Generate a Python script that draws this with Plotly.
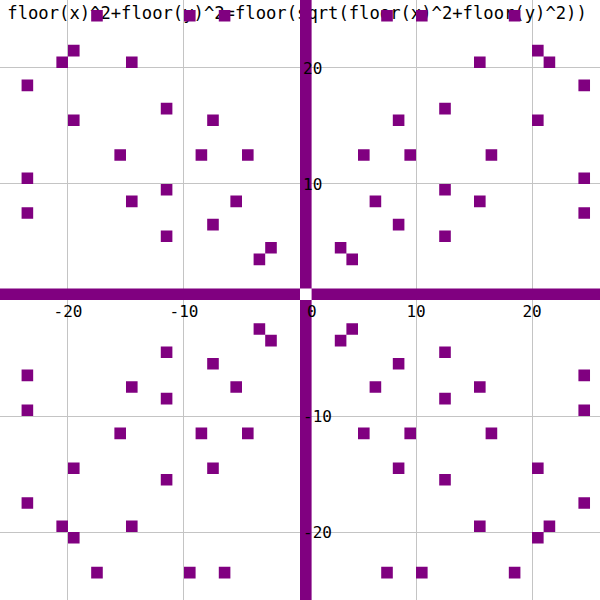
import plotly.graph_objects as go

# Integer cells (floor(x), floor(y)) in the first quadrant where x^2+y^2 is a perfect square
cell_a = [3, 4, 6, 8, 5, 12, 9, 12, 8, 15, 12, 16, 7, 24, 15, 20, 10, 24, 20, 21, 18, 24]
cell_b = [4, 3, 8, 6, 12, 5, 12, 9, 15, 8, 16, 12, 24, 7, 20, 15, 24, 10, 21, 20, 24, 18]
quadrant_signs = [(1, 1), (-1, 1), (-1, -1), (1, -1)]
axis_extent = 27  # the floor(x)=0 / floor(y)=0 strips run off the plot
tick_values = [-20, -10, 10, 20]
tick_labels = ["-20", "-10", "10", "20"]
title_text = "floor(x)^2+floor(y)^2=floor(sqrt(floor(x)^2+floor(y)^2))"

PURPLE = "#800080"
FONT = "DejaVu Sans Mono"

xs, ys = [], []


def add_rect(x0, x1, y0, y1):
    xs.extend([x0, x1, x1, x0, x0, None])
    ys.extend([y0, y0, y1, y1, y0, None])


for sx, sy in quadrant_signs:
    for a, b in zip(cell_a, cell_b):
        fx, fy = sx * a, sy * b
        add_rect(fx, fx + 1, fy, fy + 1)

# strips where floor(x)=0 or floor(y)=0 (origin cell left blank as in the reference)
add_rect(-axis_extent, 0, 0, 1)
add_rect(1, axis_extent, 0, 1)
add_rect(0, 1, -axis_extent, 0)
add_rect(0, 1, 1, axis_extent)

R = 25.86
px_per_unit = 600 / (2 * R)

fig = go.Figure()
# title text drawn beneath the cells, as in the reference
fig.add_trace(go.Scatter(
    x=[-R + 7.3 / px_per_unit], y=[R - 15 / px_per_unit],
    mode="text", text=[title_text], textposition="middle right",
    textfont=dict(family=FONT, size=17.2, color="black"),
    hoverinfo="skip", showlegend=False,
))
fig.add_trace(go.Scatter(
    x=xs, y=ys, mode="lines", fill="toself", fillcolor=PURPLE,
    line=dict(width=0, color=PURPLE), hoverinfo="skip", showlegend=False,
))

fig.update_layout(
    width=600, height=600,
    margin=dict(l=0, r=0, t=0, b=0),
    plot_bgcolor="white", paper_bgcolor="white",
    showlegend=False,
    xaxis=dict(
        range=[-R, R], anchor="free", position=0.5, automargin=False,
        tickvals=tick_values, ticktext=tick_labels, ticks="",
        showgrid=True, gridcolor="#c4c4c4", gridwidth=1,
        zeroline=False, showline=False,
        tickfont=dict(family=FONT, size=16, color="black"),
    ),
    yaxis=dict(
        range=[-R, R], anchor="free", position=0.5, side="right", automargin=False,
        tickvals=tick_values, ticktext=tick_labels, ticks="",
        showgrid=True, gridcolor="#c4c4c4", gridwidth=1,
        zeroline=False, showline=False, ticklabelstandoff=2,
        tickfont=dict(family=FONT, size=16, color="black"),
    ),
    annotations=[dict(
        x=1, y=0, xref="x", yref="y", text="0", showarrow=False,
        xanchor="center", yanchor="top", yshift=0,
        font=dict(family=FONT, size=16, color="black"),
    )],
)

fig.write_html("out.html", config={"displayModeBar": False},
               post_script="document.body.style.margin='0';")
